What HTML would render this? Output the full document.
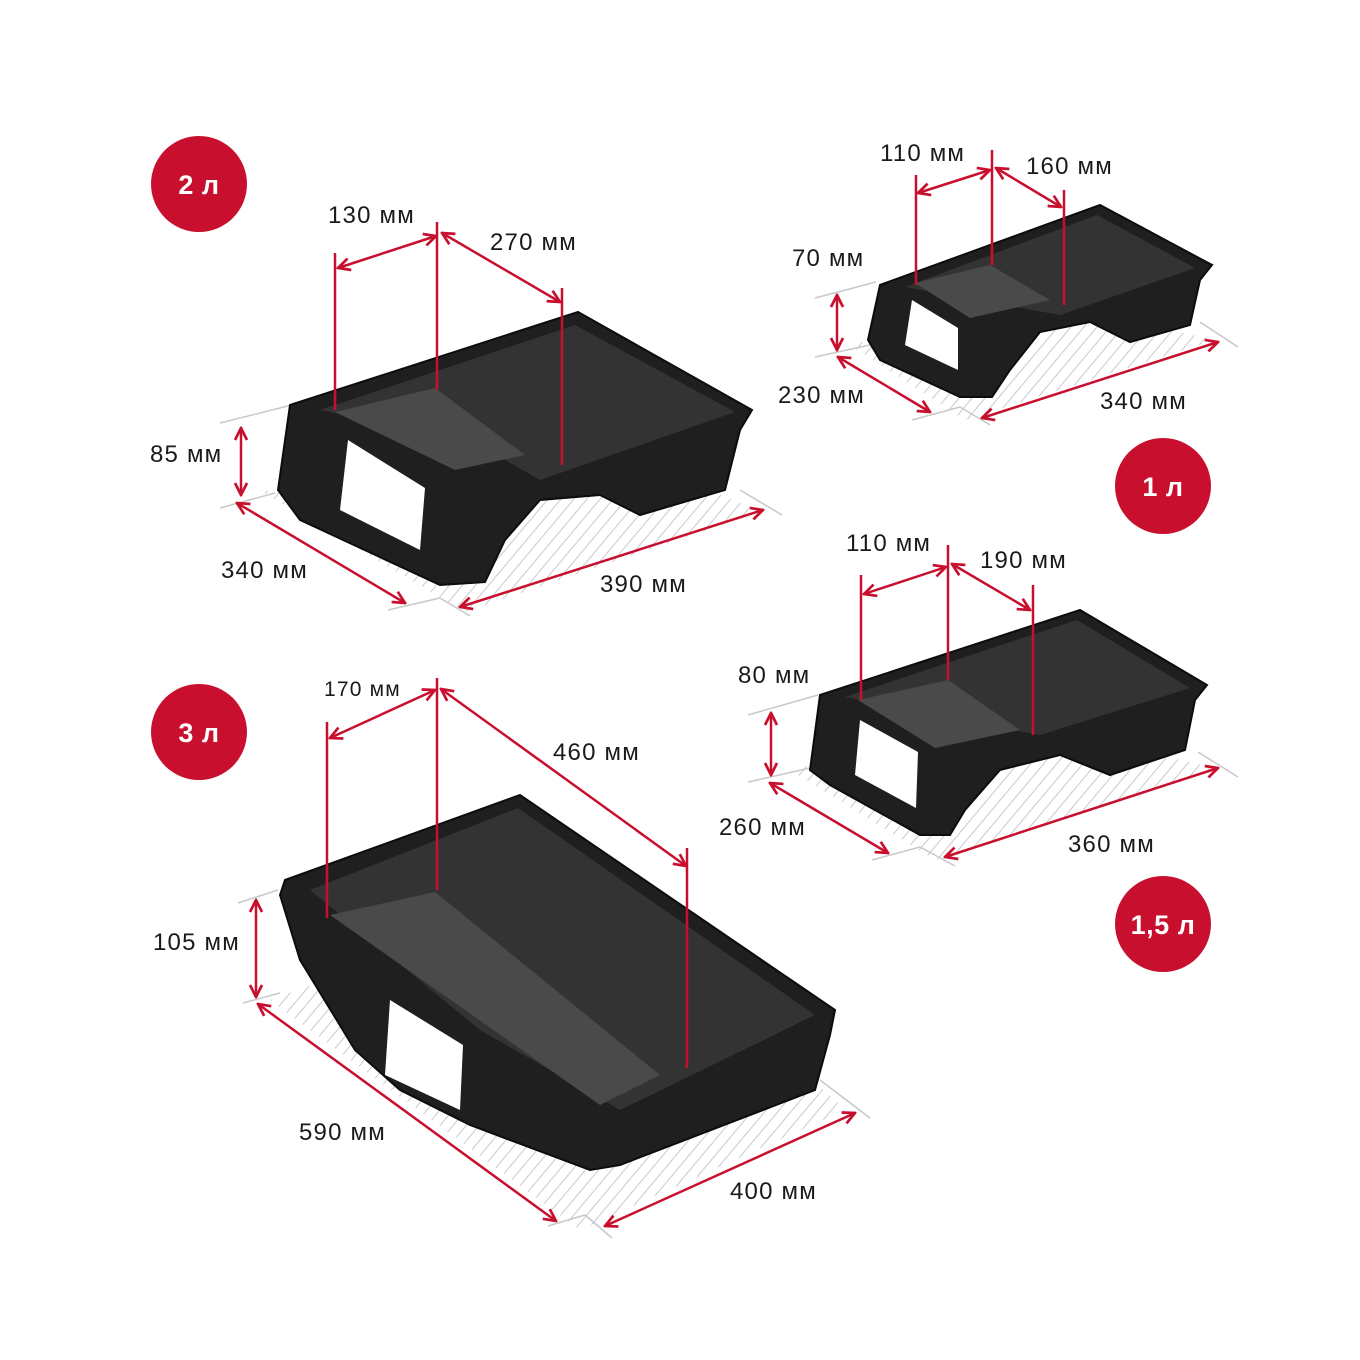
<!DOCTYPE html>
<html><head><meta charset="utf-8"><style>
html,body{margin:0;padding:0;background:#fff}
svg{display:block}
text{font-family:"Liberation Sans",sans-serif;font-size:24px;letter-spacing:1.2px;fill:#1a1a1a}
.b{font-weight:bold;fill:#fff;font-size:27px;letter-spacing:0.5px}
.r{stroke:#c8102e;stroke-width:2.5;fill:none}
.g{stroke:#c8c8c8;stroke-width:1.5}
</style></head><body>
<svg width="1360" height="1360" viewBox="0 0 1360 1360" xmlns="http://www.w3.org/2000/svg">
<defs>
<pattern id="h" width="10" height="10" patternUnits="userSpaceOnUse" patternTransform="rotate(40)">
<line x1="0" y1="0" x2="0" y2="10" stroke="#c9c9cf" stroke-width="2"/></pattern>
<marker id="a" viewBox="0 0 10 10" refX="9" refY="5" markerWidth="6" markerHeight="6" orient="auto-start-reverse">
<path d="M1,1 L9,5 L1,9" fill="none" stroke="#c8102e" stroke-width="1.8"/></marker>
</defs>

<polygon points="262,492 555,420 760,512 465,612" fill="url(#h)"/>
<polygon points="850,345 1040,300 1215,340 965,420" fill="url(#h)"/>
<polygon points="790,770 1010,720 1215,768 935,860" fill="url(#h)"/>
<polygon points="270,1000 600,880 845,1110 580,1230" fill="url(#h)"/>

<g class="g">
<line x1="220" y1="423" x2="292" y2="405"/><line x1="220" y1="508" x2="275" y2="493"/>
<line x1="388" y1="610" x2="440" y2="598"/><line x1="440" y1="598" x2="470" y2="616"/>
<line x1="740" y1="490" x2="782" y2="515"/>
<line x1="815" y1="298" x2="876" y2="282"/><line x1="815" y1="357" x2="870" y2="345"/>
<line x1="912" y1="420" x2="960" y2="407"/><line x1="960" y1="407" x2="990" y2="425"/><line x1="1200" y1="322" x2="1238" y2="347"/>
<line x1="748" y1="715" x2="818" y2="695"/><line x1="748" y1="782" x2="810" y2="768"/>
<line x1="872" y1="860" x2="920" y2="847"/><line x1="920" y1="847" x2="955" y2="866"/><line x1="1198" y1="752" x2="1238" y2="777"/>
<line x1="238" y1="903" x2="278" y2="890"/><line x1="243" y1="1003" x2="280" y2="993"/>
<line x1="548" y1="1226" x2="585" y2="1215"/><line x1="585" y1="1215" x2="612" y2="1238"/><line x1="820" y1="1080" x2="870" y2="1118"/>
</g>

<g fill="#1f1f1f" stroke="#0c0c0c" stroke-width="2">
<polygon points="290,405 578,312 752,410 740,430 725,490 640,515 600,495 540,500 505,540 485,582 440,585 300,520 278,490"/>
<polygon points="880,285 1100,205 1212,265 1200,280 1190,325 1130,342 1090,322 1040,332 1010,370 992,397 960,397 880,360 868,340"/>
<polygon points="820,695 1080,610 1207,685 1195,700 1185,750 1110,775 1060,755 1000,770 965,810 950,835 920,835 830,785 810,770"/>
<polygon points="285,880 520,795 835,1010 830,1035 815,1090 620,1165 590,1170 470,1125 460,1120 400,1090 355,1050 300,960 280,895"/>
</g>
<g fill="#333">
<polygon points="320,410 575,325 735,412 540,480 470,440"/>
<polygon points="905,287 1097,215 1195,268 1060,315"/>
<polygon points="845,697 1077,620 1190,688 1040,735"/>
<polygon points="310,890 518,808 815,1015 620,1110 480,1030"/>
</g>
<g fill="#4a4a4a">
<polygon points="335,412 435,388 525,455 455,470"/>
<polygon points="915,283 990,265 1050,300 970,318"/>
<polygon points="858,700 948,680 1020,730 935,748"/>
<polygon points="330,915 435,892 660,1075 600,1105"/>
</g>
<g fill="#fff">
<polygon points="348,440 425,488 420,550 340,510"/>
<polygon points="912,300 958,328 958,370 905,345"/>
<polygon points="860,720 918,752 916,808 855,775"/>
<polygon points="390,1000 463,1045 460,1110 385,1075"/>
</g>

<g class="r">
<line x1="335" y1="253" x2="335" y2="410"/><line x1="437" y1="222" x2="437" y2="390"/><line x1="562" y1="288" x2="562" y2="465"/>
<line x1="338" y1="268" x2="436" y2="236" marker-start="url(#a)" marker-end="url(#a)"/>
<line x1="442" y1="233" x2="560" y2="302" marker-start="url(#a)" marker-end="url(#a)"/>
<line x1="241" y1="428" x2="241" y2="495" marker-start="url(#a)" marker-end="url(#a)"/>
<line x1="237" y1="503" x2="405" y2="603" marker-start="url(#a)" marker-end="url(#a)"/>
<line x1="460" y1="607" x2="763" y2="510" marker-start="url(#a)" marker-end="url(#a)"/>

<line x1="916" y1="175" x2="916" y2="285"/><line x1="992" y1="150" x2="992" y2="265"/><line x1="1064" y1="190" x2="1064" y2="305"/>
<line x1="918" y1="193" x2="990" y2="170" marker-start="url(#a)" marker-end="url(#a)"/>
<line x1="996" y1="168" x2="1061" y2="207" marker-start="url(#a)" marker-end="url(#a)"/>
<line x1="837" y1="295" x2="837" y2="350" marker-start="url(#a)" marker-end="url(#a)"/>
<line x1="838" y1="357" x2="930" y2="412" marker-start="url(#a)" marker-end="url(#a)"/>
<line x1="982" y1="418" x2="1218" y2="342" marker-start="url(#a)" marker-end="url(#a)"/>

<line x1="861" y1="575" x2="861" y2="700"/><line x1="948" y1="545" x2="948" y2="680"/><line x1="1033" y1="585" x2="1033" y2="735"/>
<line x1="864" y1="594" x2="946" y2="567" marker-start="url(#a)" marker-end="url(#a)"/>
<line x1="952" y1="564" x2="1030" y2="610" marker-start="url(#a)" marker-end="url(#a)"/>
<line x1="771" y1="713" x2="771" y2="775" marker-start="url(#a)" marker-end="url(#a)"/>
<line x1="770" y1="783" x2="888" y2="853" marker-start="url(#a)" marker-end="url(#a)"/>
<line x1="945" y1="857" x2="1218" y2="768" marker-start="url(#a)" marker-end="url(#a)"/>

<line x1="327" y1="722" x2="327" y2="918"/><line x1="437" y1="678" x2="437" y2="890"/><line x1="687" y1="848" x2="687" y2="1068"/>
<line x1="330" y1="738" x2="435" y2="690" marker-start="url(#a)" marker-end="url(#a)"/>
<line x1="441" y1="689" x2="686" y2="866" marker-start="url(#a)" marker-end="url(#a)"/>
<line x1="256" y1="900" x2="256" y2="997" marker-start="url(#a)" marker-end="url(#a)"/>
<line x1="258" y1="1004" x2="556" y2="1221" marker-start="url(#a)" marker-end="url(#a)"/>
<line x1="605" y1="1226" x2="855" y2="1113" marker-start="url(#a)" marker-end="url(#a)"/>
</g>

<text x="328" y="223">130 мм</text><text x="490" y="250">270 мм</text>
<text x="150" y="462">85 мм</text><text x="221" y="578">340 мм</text><text x="600" y="592">390 мм</text>
<text x="880" y="161">110 мм</text><text x="1026" y="174">160 мм</text>
<text x="792" y="266">70 мм</text><text x="778" y="403">230 мм</text><text x="1100" y="409">340 мм</text>
<text x="846" y="551">110 мм</text><text x="980" y="568">190 мм</text>
<text x="738" y="683">80 мм</text><text x="719" y="835">260 мм</text><text x="1068" y="852">360 мм</text>
<text x="324" y="696" style="font-size:21px">170 мм</text><text x="553" y="760">460 мм</text>
<text x="153" y="950">105 мм</text><text x="299" y="1140">590 мм</text><text x="730" y="1199">400 мм</text>

<g fill="#c8102e">
<circle cx="199" cy="184" r="48"/><circle cx="1163" cy="486" r="48"/>
<circle cx="199" cy="732" r="48"/><circle cx="1163" cy="924" r="48"/>
</g>
<text class="b" x="199" y="194" text-anchor="middle">2 л</text>
<text class="b" x="1163" y="496" text-anchor="middle">1 л</text>
<text class="b" x="199" y="742" text-anchor="middle">3 л</text>
<text class="b" x="1163" y="934" text-anchor="middle">1,5 л</text>
</svg>
</body></html>
